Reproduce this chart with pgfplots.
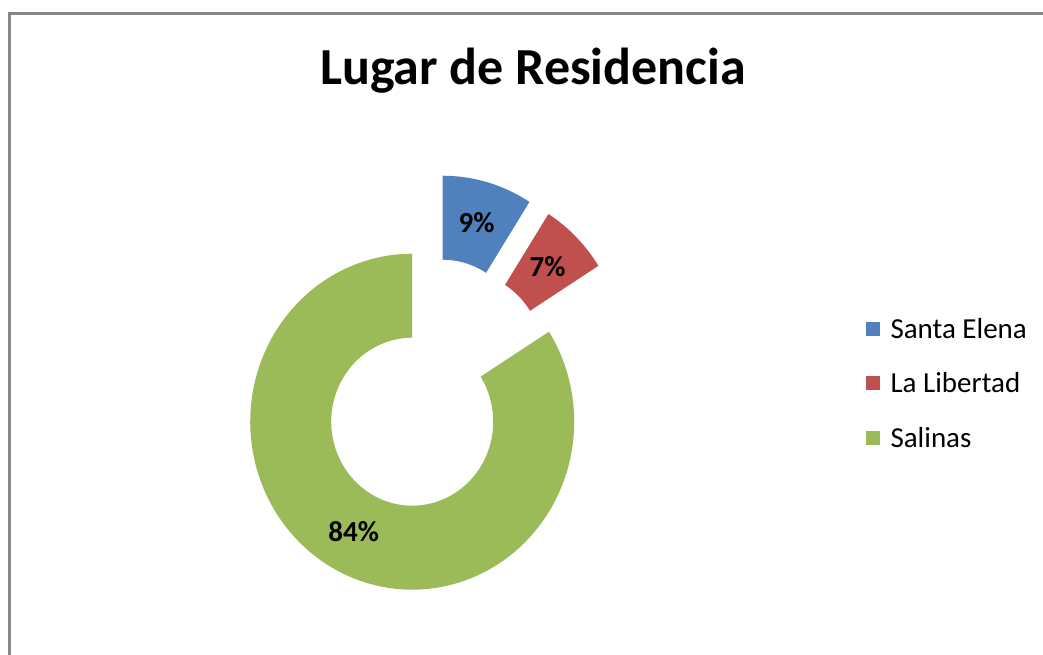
\documentclass[border=0pt]{standalone}
\usepackage{pgfplots}
\pgfplotsset{compat=1.18}
\usepackage{fontspec}
\setmainfont{Carlito}
\definecolor{cBlue}{HTML}{4F81BD}
\definecolor{cRed}{HTML}{C0504D}
\definecolor{cGreen}{HTML}{9BBB59}
\definecolor{cFrame}{HTML}{878787}

% shares (percent)
\def\vSE{9}
\def\vLL{7}
\def\vSA{84}

% annular sector: colour, start angle, end angle, offset x, offset y
\newcommand{\ringsector}[5]{%
  \addplot[draw=none, fill=#1, domain=0:3, samples=361, variable=\t]
  ({#4+ifthenelse(\t<1,1,ifthenelse(\t<2,1-0.5*(\t-1),0.5))*cos(ifthenelse(\t<1,#2+(#3-#2)*\t,ifthenelse(\t<2,#3,#3+(#2-#3)*(\t-2))))},
   {#5+ifthenelse(\t<1,1,ifthenelse(\t<2,1-0.5*(\t-1),0.5))*sin(ifthenelse(\t<1,#2+(#3-#2)*\t,ifthenelse(\t<2,#3,#3+(#2-#3)*(\t-2))))});
}

\begin{document}
\begin{tikzpicture}
\useasboundingbox (0pt,0pt) rectangle (1043pt,655pt);
\pgfmathsetmacro{\aA}{90}
\pgfmathsetmacro{\aB}{90-3.6*\vSE}
\pgfmathsetmacro{\aC}{\aB-3.6*\vLL}
\pgfmathsetmacro{\aD}{\aC-3.6*\vSA}
\begin{axis}[
  at={(0pt,0pt)}, anchor=south west,
  scale only axis, width=1043pt, height=655pt,
  xmin=-2.5444, xmax=3.8938, ymin=-1.3887, ymax=2.5101,
  hide axis,
  title={Lugar de Residencia},
  title style={at={(0.511,0.862)}, anchor=base, font=\bfseries\fontsize{52}{60}\selectfont},
  legend style={at={(0.8303,0.4145)}, anchor=west, draw=none, fill=none,
    inner sep=0pt, outer sep=0pt, font=\fontsize{29}{32}\selectfont,
    row sep=33pt, nodes={inner xsep=10.5pt, inner ysep=0pt}},
  legend cell align=left,
  legend image code/.code={\fill[#1] (0pt,-7pt) rectangle (14pt,7pt);},
]
\ringsector{cBlue}{\aA}{\aB}{0.188}{0.464}
\addlegendentry{Santa Elena}
\ringsector{cRed}{\aB}{\aC}{0.305}{0.392}
\addlegendentry{La Libertad}
\ringsector{cGreen}{\aC}{\aD}{0}{0}
\addlegendentry{Salinas}

\node[font=\bfseries\fontsize{29}{32}\selectfont] at (axis cs:{0.188+0.75*cos((\aA+\aB)/2)},{0.464+0.75*sin((\aA+\aB)/2)}) {\vSE\%};
\node[font=\bfseries\fontsize{29}{32}\selectfont] at (axis cs:{0.305+0.75*cos((\aB+\aC)/2)},{0.392+0.75*sin((\aB+\aC)/2)}) {\vLL\%};
\node[font=\bfseries\fontsize{29}{32}\selectfont] at (axis cs:{0.75*cos((\aC+\aD)/2)},{0.75*sin((\aC+\aD)/2)}) {\vSA\%};
\end{axis}
\draw[cFrame, line width=2.5pt] (9.5pt,-20pt) -- (9.5pt,641.5pt) -- (1070pt,641.5pt);
\end{tikzpicture}
\end{document}
